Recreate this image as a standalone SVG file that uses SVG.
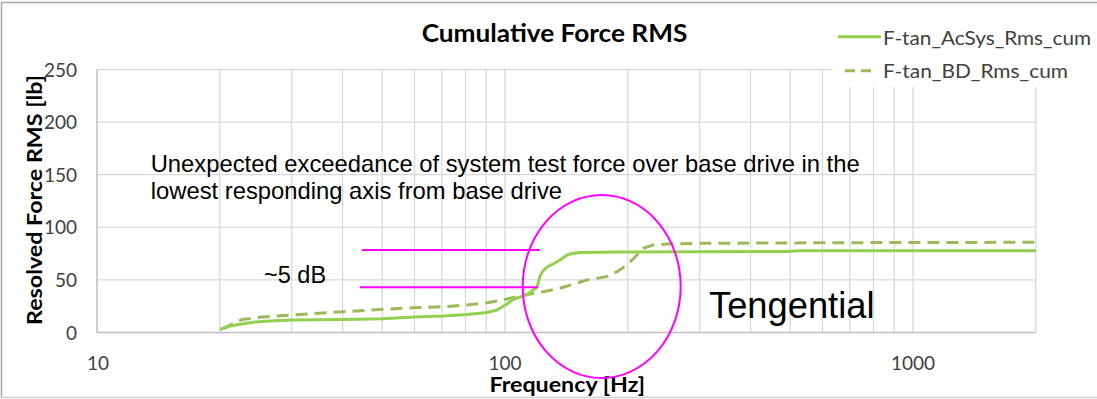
<svg xmlns="http://www.w3.org/2000/svg" width="1097" height="399" viewBox="0 0 1097 399">
<style>
.grid{stroke:#d9d9d9;stroke-width:1.3;fill:none}
.axis{stroke:#bfbfbf;stroke-width:1.5;fill:none}
.cal{font-family:"Lato","Open Sans",sans-serif;fill:#404040}
.calb{font-family:"Lato","Open Sans",sans-serif;font-weight:bold;fill:#000}
.ari{font-family:"Liberation Sans",Arial,sans-serif;fill:#000}
.solid{stroke:#92d050;stroke-width:3;fill:none;stroke-linejoin:round}
.dash{stroke:#9bbb59;stroke-width:3;fill:none;stroke-dasharray:12 7;stroke-linejoin:round}
.mag{stroke:#ff00ff;stroke-width:2;fill:none}
</style>
<rect x="0" y="0" width="1097" height="399" fill="#ffffff"/>
<path d="M1.5,398 V2.5 H1097" stroke="#a6a6a6" stroke-width="1.5" fill="none"/>
<path d="M1.5,397.5 H1097" stroke="#d0d0d0" stroke-width="1.5" fill="none"/>
<g id="grid">
<path class="grid" d="M97,69.5 H832 M97,122.1 H1036 M97,174.7 H1036 M97,227.3 H1036 M97,279.9 H1036"/>
<path class="grid" d="M219.8,69.5 V332.5 M291.7,69.5 V332.5 M342.6,69.5 V332.5 M382.2,69.5 V332.5 M414.5,69.5 V332.5 M441.8,69.5 V332.5 M465.5,69.5 V332.5 M486.3,69.5 V332.5 M505,69.5 V332.5 M627.8,69.5 V332.5 M699.7,69.5 V332.5 M750.6,69.5 V332.5 M790.2,69.5 V332.5 M822.5,69.5 V332.5 M849.8,87 V332.5 M873.5,87 V332.5 M894.3,87 V332.5 M913,87 V332.5 M1035.8,87 V332.5"/>
<path class="axis" d="M97,69.5 V332.5 M97,332.5 H1036"/>
</g>
<g id="title"><text class="calb" x="554.5" y="42.3" font-size="24" text-anchor="middle" textLength="265.6" lengthAdjust="spacingAndGlyphs">Cumulative Force RMS</text></g>
<g id="legend">
<line class="solid" x1="838" y1="36.7" x2="881" y2="36.7"/>
<text class="cal" x="883" y="44.5" font-size="20" textLength="208" lengthAdjust="spacingAndGlyphs">F-tan_AcSys_Rms_cum</text>
<line stroke="#9bbb59" stroke-width="3" stroke-dasharray="10 6" x1="845" y1="70.7" x2="871" y2="70.7"/>
<text class="cal" x="883" y="78" font-size="20" textLength="185" lengthAdjust="spacingAndGlyphs">F-tan_BD_Rms_cum</text>
</g>
<g id="yaxis">
<g class="cal" font-size="19" text-anchor="end">
<text x="77" y="76.5">250</text>
<text x="77" y="129.1">200</text>
<text x="77" y="181.7">150</text>
<text x="77" y="234.3">100</text>
<text x="77" y="286.9">50</text>
<text x="77" y="339.5">0</text>
</g>
<text class="calb" transform="translate(41.5,200) rotate(-90)" x="0" y="0" font-size="21" text-anchor="middle" textLength="250" lengthAdjust="spacingAndGlyphs">Resolved Force RMS [lb]</text>
</g>
<g id="xaxis">
<g class="cal" font-size="19" text-anchor="middle">
<text x="98" y="369.5">10</text>
<text x="505" y="369.5">100</text>
<text x="913" y="369.5">1000</text>
</g>
<text class="calb" x="567.3" y="391.5" font-size="20" text-anchor="middle" textLength="155.7" lengthAdjust="spacingAndGlyphs">Frequency [Hz]</text>
</g>
<g id="series">
<polyline class="dash" points="222,329 232,324 242,319.5 260,317.3 292,315 343,311.7 383,309.3 414,307.7 443,306.7 467,305 487,302.7 500,300.5 507,299 523,295 537,293 560,288.3 587,280 607,276.5 617,271.7 627,265 637,255 643,248.3 653,245 667,244 700,243.3 900,242.5 1036,242.3"/>
<polyline class="solid" points="220,329.5 230,326 240,324.3 255,322 270,321 292,320 343,319.5 383,318.7 414,317 443,316 467,314.5 487,312.5 497,310 507,304 513,299.5 517,298 527,294.5 537,287.3 540,276 543,271 547,267 553,264 560,260 567,255 572,253.5 580,252.5 620,252 700,251.7 787,251.5 800,250.8 1036,250.8"/>
</g>
<g id="annotations">
<text class="ari" x="150.7" y="171.7" font-size="23.8">Unexpected exceedance of system test force over base drive in the</text>
<text class="ari" x="150.7" y="199" font-size="23.8">lowest responding axis from base drive</text>
<line class="mag" x1="362" y1="250" x2="540" y2="250"/>
<line class="mag" x1="360" y1="287.3" x2="538" y2="287.3"/>
<text class="ari" x="264" y="283.3" font-size="23.5">~5 dB</text>
<ellipse class="mag" cx="601.7" cy="286.5" rx="79" ry="91.5"/>
<text class="ari" x="709" y="318.3" font-size="36.3">Tengential</text>
</g>
</svg>
